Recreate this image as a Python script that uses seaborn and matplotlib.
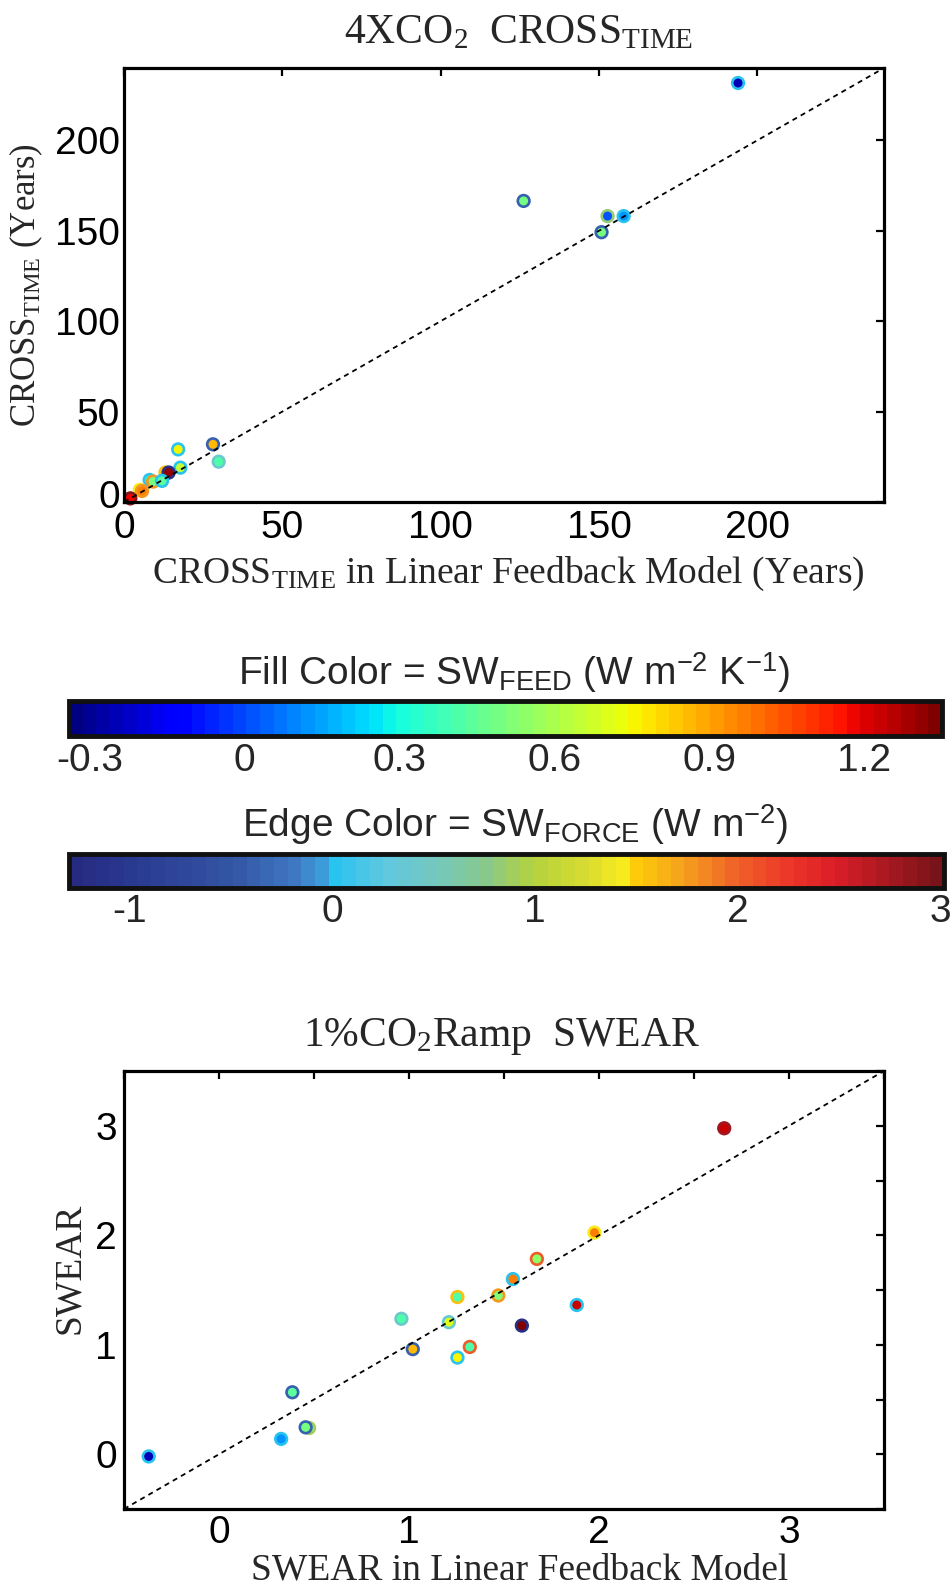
import matplotlib
matplotlib.use("Agg")
import numpy as np
import pandas as pd
import matplotlib.pyplot as plt
import matplotlib.colors as mcolors
import matplotlib.ticker as mticker
import matplotlib.cm as mcm
import matplotlib.transforms as mtrans
import seaborn as sns

# ---------------- data ----------------
# Panel 1: 4XCO2 CROSS_TIME (years)
top_lfm = [193.9, 126.2, 152.7, 157.8, 150.8, 28.1, 17.1, 29.9, 17.8, 13.1, 14.1,
           8.1, 9.2, 12.0, 5.0, 5.7, 2.0]
top_gcm = [231.7, 166.5, 158.1, 158.1, 149.2, 31.9, 29.1, 22.3, 19.0, 16.3, 16.3,
           12.2, 11.3, 11.7, 6.7, 6.1, 2.0]
top_feed = [-0.26, 0.50, 0.02, 0.12, 0.50, 0.86, 0.76, 0.40, 0.64, 0.90, 1.30,
            0.30, 0.50, 0.45, 0.95, 0.97, 1.18]
top_force = [0.0, -0.4, 0.8, 0.0, -0.4, -0.4, 0.0, 0.4, 0.0, 1.55, -1.2,
             0.0, 1.8, 0.0, 1.4, 1.8, 2.9]

# Panel 2: 1%CO2 Ramp SWEAR
bot_lfm = [-0.37, 0.327, 0.474, 0.456, 0.386, 1.02, 1.255, 1.32, 0.96, 1.21, 1.255,
           1.47, 1.547, 1.594, 1.673, 1.883, 1.976, 2.659]
bot_gcm = [-0.02, 0.14, 0.24, 0.246, 0.566, 0.96, 0.883, 0.98, 1.237, 1.206, 1.436,
           1.45, 1.60, 1.175, 1.784, 1.363, 2.024, 2.977]
bot_feed = [-0.26, 0.125, 0.55, 0.50, 0.45, 0.86, 0.76, 0.42, 0.42, 0.70, 0.42,
            0.52, 0.97, 1.33, 0.55, 1.22, 0.97, 1.22]
bot_force = [0.0, 0.0, 0.9, -0.4, -0.4, -0.4, 0.0, 2.05, 0.45, 0.35, 1.55,
             1.8, 0.0, -1.2, 2.05, 0.0, 1.4, 2.8]

# colour scales
feed_range = (-0.34, 1.35)
feed_ticks = [-0.3, 0, 0.3, 0.6, 0.9, 1.2]
feed_labels = ["-0.3", "0", "0.3", "0.6", "0.9", "1.2"]
force_range = (-1.3, 3.02)
force_ticks = [-1, -0.5, 0, 0.5, 1, 1.5, 2, 2.5, 3]
force_labels = ["-1", "", "0", "", "1", "", "2", "", "3"]

top_ticks = [0, 50, 100, 150, 200]
top_lim = (0, 240)
bot_major = [0, 1, 2, 3]
bot_lim = (-0.5, 3.5)

# ---------------- style ----------------
sns.set_style("white")
plt.rcParams["font.family"] = ["Liberation Sans", "DejaVu Sans"]
plt.rcParams["mathtext.fontset"] = "custom"
plt.rcParams["mathtext.rm"] = "Liberation Serif"
plt.rcParams["mathtext.sf"] = "Liberation Sans"
plt.rcParams["mathtext.it"] = "Liberation Serif:italic"
plt.rcParams["axes.unicode_minus"] = False

SERIF = ["Liberation Serif", "DejaVu Serif"]

feed_cmap = matplotlib.colormaps["jet"].resampled(64)
feed_norm = mcolors.Normalize(*feed_range)

force_nodes = [
    (-1.3, "#262a80"), (-1.0, "#2a3a91"), (-0.5, "#3455a5"), (-0.2, "#3e78c3"),
    (-0.05, "#3ca0dc"), (0.0, "#28c3f0"), (0.25, "#5fc8e1"), (0.5, "#73c8be"),
    (0.75, "#87c88c"), (1.0, "#b4d23c"), (1.25, "#d7dc32"), (1.45, "#f8ec1e"),
    (1.5, "#fecd0a"), (1.75, "#f5a01e"), (2.0, "#f06428"), (2.3, "#eb3228"),
    (2.5, "#dc1e28"), (3.02, "#781419"),
]
lo, hi = force_range
force_cmap = mcolors.LinearSegmentedColormap.from_list(
    "swforce", [((v - lo) / (hi - lo), c) for v, c in force_nodes]).resampled(64)
force_norm = mcolors.Normalize(*force_range)

W, H = 953, 1588
fig = plt.figure(figsize=(W / 100, H / 100), dpi=100)


def frac(l, t, r, b):
    return [l / W, 1 - b / H, (r - l) / W, (b - t) / H]


def panel(ax, x, y, feed, force):
    df = pd.DataFrame({"lfm": x, "gcm": y, "feed": feed})
    edges = force_cmap(force_norm(np.asarray(force)))
    sns.scatterplot(data=df, x="lfm", y="gcm", hue="feed", palette=feed_cmap,
                    hue_norm=feed_norm, edgecolor=edges, linewidth=1.9, s=70,
                    legend=False, ax=ax, clip_on=False, zorder=3)
    ax.axline((0, 0), slope=1, color="black", lw=1.3,
              linestyle=(0, (2.8, 2.4)), zorder=4)
    for sp in ax.spines.values():
        sp.set_linewidth(2.3)
        sp.set_color("black")
        sp.set_zorder(5)
    ax.tick_params(which="both", direction="in", top=True, right=True,
                   length=6, width=1.6, color="black", labelsize=28,
                   labelcolor="black")


# ---- top panel ----
ax1 = fig.add_axes(frac(124, 68, 884, 502))
panel(ax1, top_lfm, top_gcm, top_feed, top_force)
ax1.set_xlim(*top_lim)
ax1.set_ylim(*top_lim)
ax1.set_xticks(top_ticks)
ax1.set_yticks(top_ticks)
ax1.tick_params(axis="x", pad=6)
ax1.tick_params(axis="y", pad=3)
ax1.set_xlabel(r"CROSS$_\mathrm{TIME}$ in Linear Feedback Model (Years)",
               fontsize=27, family=SERIF)
ax1.xaxis.set_label_coords(0.505, -0.165)
ax1.xaxis.label.set_va("center")
ax1.set_ylabel(r"CROSS$_\mathrm{TIME}$ (Years)", fontsize=25, family=SERIF)
ax1.yaxis.set_label_coords(-0.128, 0.5)
ax1.yaxis.label.set_va("center")
ax1.text(0.519, 1.08, r"4XCO$_\mathrm{2}$  CROSS$_\mathrm{TIME}$", transform=ax1.transAxes,
         ha="center", va="center", fontsize=30, family=SERIF)

# lift the y "0" label a little, as in the reference, so it clears the x "0"
fig.canvas.draw()
ylab0 = ax1.yaxis.get_major_ticks()[0].label1
ylab0.set_transform(ylab0.get_transform() +
                    mtrans.ScaledTranslation(0, 6 / 72, fig.dpi_scale_trans))

# ---- bottom panel ----
ax2 = fig.add_axes(frac(124, 1071, 884, 1509))
panel(ax2, bot_lfm, bot_gcm, bot_feed, bot_force)
ax2.set_xlim(*bot_lim)
ax2.set_ylim(*bot_lim)
ax2.xaxis.set_major_locator(mticker.FixedLocator(bot_major))
ax2.yaxis.set_major_locator(mticker.FixedLocator(bot_major))
ax2.xaxis.set_minor_locator(mticker.MultipleLocator(0.5))
ax2.yaxis.set_minor_locator(mticker.MultipleLocator(0.5))
ax2.tick_params(axis="x", which="both", pad=4)
ax2.tick_params(axis="y", which="both", pad=5)
ax2.set_xlabel("SWEAR in Linear Feedback Model", fontsize=27, family=SERIF)
ax2.xaxis.set_label_coords(0.52, -0.14)
ax2.xaxis.label.set_va("center")
ax2.set_ylabel("SWEAR", fontsize=27, family=SERIF)
ax2.yaxis.set_label_coords(-0.072, 0.55)
ax2.yaxis.label.set_va("center")
ax2.text(0.497, 1.079, r"1%CO$_\mathrm{2}$Ramp  SWEAR", transform=ax2.transAxes,
         ha="center", va="center", fontsize=30, family=SERIF)

# ---- colour bars ----
def colorbar(box, cmap, norm, ticks, labels, pad):
    cax = fig.add_axes(frac(*box))
    cb = fig.colorbar(mcm.ScalarMappable(norm=norm, cmap=cmap), cax=cax,
                      orientation="horizontal")
    cb.outline.set_linewidth(3.5)
    cb.outline.set_edgecolor("#111111")
    cb.set_ticks(ticks)
    cb.set_ticklabels(labels)
    cax.tick_params(direction="in", top=True, bottom=True, length=5, width=2.5,
                    color="#111111", labelsize=28, pad=pad)
    cax.minorticks_off()
    return cax


colorbar((69, 701, 942, 736), feed_cmap, feed_norm, feed_ticks, feed_labels, 5)
colorbar((69, 854, 944, 888), force_cmap, force_norm, force_ticks, force_labels, 4)

fig.text(514 / W, 1 - 673 / H,
         r"Fill Color = SW$_\mathsf{FEED}$ (W m$^\mathsf{-2}$ K$^\mathsf{-1}$)",
         ha="center", va="center", fontsize=28)
fig.text(515 / W, 1 - 825 / H,
         r"Edge Color = SW$_\mathsf{FORCE}$ (W m$^\mathsf{-2}$)",
         ha="center", va="center", fontsize=28)

fig.savefig("out.png", dpi=100)
